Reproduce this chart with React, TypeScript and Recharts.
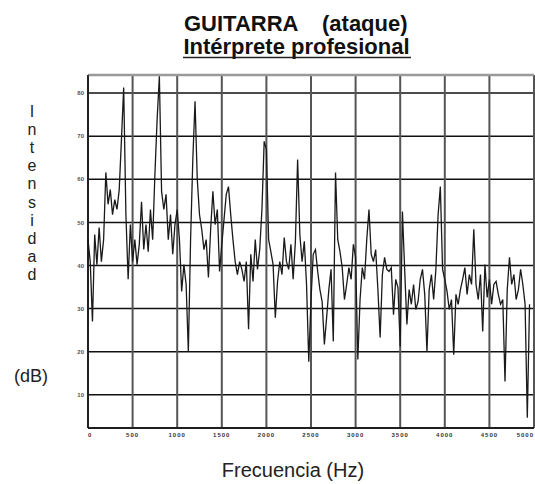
import React from "react";
import { LineChart, Line, XAxis, YAxis, CartesianGrid, ReferenceLine } from "recharts";

// Spectrum bin width (Hz) and intensity per bin (dB)
const BIN_HZ = 25;
const intensity: number[] = [
  46.0, 40.9, 27.0, 47.2, 40.2, 48.8, 40.9, 46.0, 61.6, 54.2,
  57.6, 51.8, 55.3, 53.0, 57.6, 69.2, 81.3, 51.8, 36.8, 49.5,
  40.9, 46.0, 40.2, 44.9, 54.8, 43.7, 49.5, 43.2, 53.0, 46.0,
  61.1, 73.9, 83.9, 57.2, 53.0, 56.5, 46.0, 51.8, 42.6, 49.5,
  53.0, 46.0, 34.0, 40.2, 35.6, 20.0, 46.0, 64.6, 78.1, 60.0,
  51.8, 48.4, 43.7, 46.0, 37.2, 48.4, 57.2, 49.5, 53.0, 38.6,
  44.9, 50.7, 56.5, 58.3, 51.8, 46.0, 40.9, 37.9, 40.9, 39.1,
  36.3, 40.9, 25.2, 42.6, 36.3, 46.0, 39.1, 43.7, 53.0, 68.8,
  66.9, 46.0, 43.2, 40.2, 27.9, 36.3, 40.9, 37.9, 46.5, 40.9,
  39.1, 44.9, 36.8, 45.6, 64.6, 47.2, 40.9, 45.6, 35.6, 17.7,
  32.1, 42.6, 43.7, 38.6, 34.4, 31.6, 21.7, 27.9, 34.4, 39.1,
  22.4, 61.6, 46.0, 43.2, 39.5, 32.1, 35.6, 39.5, 36.8, 44.9,
  41.9, 18.2, 32.1, 39.5, 36.8, 46.0, 53.0, 42.6, 40.9, 43.7,
  34.4, 23.3, 37.9, 41.9, 39.1, 38.6, 39.5, 28.6, 36.8, 34.9,
  21.2, 52.5, 39.1, 26.3, 34.4, 31.0, 35.6, 29.8, 31.6, 36.8,
  39.1, 33.3, 20.0, 34.4, 37.9, 32.1, 39.1, 51.8, 58.3, 39.1,
  36.8, 34.0, 29.8, 32.1, 19.3, 33.3, 31.0, 34.4, 36.8, 39.5,
  33.3, 37.9, 35.6, 48.4, 35.6, 32.1, 37.9, 24.7, 40.2, 32.6,
  36.8, 31.0, 35.6, 36.3, 33.3, 31.0, 32.1, 13.1, 34.4, 41.9,
  35.6, 37.9, 32.1, 34.4, 39.1, 35.6, 31.0, 4.7, 31.0,
];

const xTicks = [0, 500, 1000, 1500, 2000, 2500, 3000, 3500, 4000, 4500, 5000];
const xMinorTicks = [250, 750, 1250, 1750, 2250, 2750, 3250, 3750, 4250, 4750];
const yTicks = [10, 20, 30, 40, 50, 60, 70, 80];
const Y_MIN = 2.3;
const Y_MAX = 84.2;

const title1a = "GUITARRA";
const title1b = "(ataque)";
const title2 = "Intérprete profesional";
const yLabelLetters = ["I", "n", "t", "e", "n", "s", "i", "d", "a", "d"];
const yUnit = "(dB)";
const xLabel = "Frecuencia (Hz)";

const data = intensity.map((v, i) => ({ f: i * BIN_HZ, v }));

const FONT = '"Liberation Sans", Arial, Helvetica, sans-serif';

const XTick = (props: any) => {
  const { x, y, payload, index, visibleTicksCount } = props;
  const last = index === (visibleTicksCount ?? xTicks.length) - 1;
  const first = index === 0;
  return (
    <text
      x={x}
      y={y}
      dy="0.71em"
      textAnchor={last ? "end" : first ? "start" : "middle"}
      fontSize={6}
      fontWeight="bold"
      fill="#333"
      fontFamily={FONT}
      letterSpacing={1}
    >
      {payload.value}
    </text>
  );
};

export default function App() {
  return (
    <div style={{ position: "absolute", left: 0, top: 0, width: 535, height: 484, background: "#fff", fontFamily: FONT }}>
      <LineChart
        width={535}
        height={484}
        data={data}
        margin={{ top: 75, right: 1, bottom: 36, left: 68 }}
      >
        <CartesianGrid horizontal={true} vertical={false} stroke="#111" strokeWidth={1.5} />
        <CartesianGrid horizontal={false} vertical={true} stroke="#555" strokeWidth={2} />
        <XAxis
          dataKey="f"
          type="number"
          domain={[0, 5000]}
          ticks={xTicks}
          interval={0}
          height={20}
          tickSize={3}
          tickLine={false}
          axisLine={{ stroke: "#111", strokeWidth: 1.5 }}
          tick={<XTick />}
        />
        <XAxis
          xAxisId="minor"
          dataKey="f"
          type="number"
          domain={[0, 5000]}
          ticks={xMinorTicks}
          interval={0}
          height={0}
          tickSize={3}
          tickLine={false}
          axisLine={false}
          tickFormatter={() => "•"}
          tick={{ fontSize: 6, fill: "#444", fontFamily: FONT }}
        />
        <YAxis
          type="number"
          domain={[Y_MIN, Y_MAX]}
          ticks={yTicks}
          interval={0}
          width={20}
          tickSize={2}
          tickLine={false}
          axisLine={{ stroke: "#111", strokeWidth: 1.5 }}
          tick={{ fontSize: 6, fontWeight: "bold", fill: "#555", fontFamily: FONT }}
        />
        <ReferenceLine y={Y_MAX} stroke="#999" strokeWidth={2.5} />
        <Line
          type="linear"
          dataKey="v"
          stroke="#1a1a1a"
          strokeWidth={1.3}
          dot={false}
          isAnimationActive={false}
        />
      </LineChart>
      <svg
        width={535}
        height={484}
        style={{ position: "absolute", left: 0, top: 0, pointerEvents: "none" }}
      >
        <text x={184} y={30.5} fontSize={22} fontWeight="bold" fill="#111" fontFamily={FONT}>{title1a}</text>
        <text x={322} y={30.5} fontSize={22} fontWeight="bold" fill="#111" fontFamily={FONT}>{title1b}</text>
        <text x={296.5} y={53.5} textAnchor="middle" fontSize={22} fontWeight="bold" fill="#111" fontFamily={FONT}>{title2}</text>
        <line x1={183} x2={411} y1={57.5} y2={57.5} stroke="#222" strokeWidth={1.5} />
        {yLabelLetters.map((ch, i) => (
          <text key={i} x={32} y={117 + i * 18.1} textAnchor="middle" fontSize={16} fill="#222" fontFamily={FONT}>{ch}</text>
        ))}
        <text x={31} y={382} textAnchor="middle" fontSize={18} fill="#222" fontFamily={FONT}>{yUnit}</text>
        <text x={293} y={477} textAnchor="middle" fontSize={20} fill="#222" fontFamily={FONT}>{xLabel}</text>
      </svg>
    </div>
  );
}
